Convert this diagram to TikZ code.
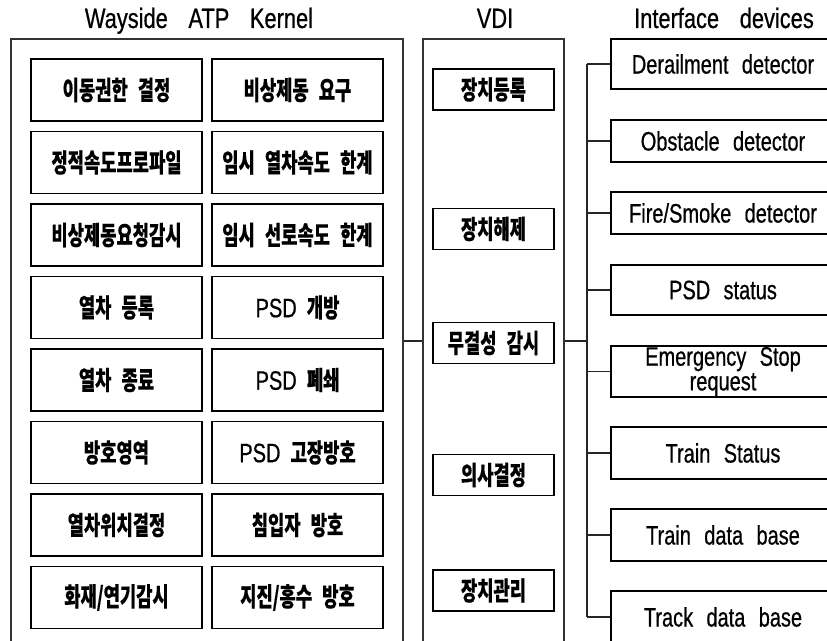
\documentclass[tikz,border=0pt]{standalone}
\usepackage{fontspec}
\setmainfont{Liberation Sans}[FakeStretch=0.75, WordSpace=2.4, FakeBold=0.6]
\newfontfamily\ttl{Liberation Sans}[FakeStretch=0.78, WordSpace=3.4, FakeBold=0.6]
\newfontfamily\kr{Noto Sans CJK KR}[FakeStretch=0.68, WordSpace=2.5, FakeBold=0.3]
\newcommand\lat[1]{{\rmfamily\mdseries\fontsize{20pt}{22pt}\selectfont #1}}
\begin{document}
\begin{tikzpicture}[x=0.75pt,y=-0.75pt,
  outer/.style={draw=black!80, line width=0.8pt, inner sep=0pt, minimum width=#1},
  kbox/.style={draw=black, line width=1pt, inner sep=0pt, minimum width=128.25pt, minimum height=46.5pt, font=\kr\bfseries\fontsize{19.5pt}{21pt}\selectfont},
  vbox/.style={draw=black, line width=1pt, inner sep=0pt, minimum width=90.75pt, minimum height=30.75pt, font=\kr\bfseries\fontsize{19.5pt}{21pt}\selectfont},
  ibox/.style={draw=black, line width=0.8pt, inner sep=0pt, minimum width=168pt, minimum height=#1, align=center, font=\fontsize{20pt}{18.5pt}\selectfont},
  title/.style={anchor=base, inner sep=0pt, font=\ttl\fontsize{21pt}{22pt}\selectfont},
  conn/.style={draw=black!85, line width=0.8pt}]
\useasboundingbox (0,0) rectangle (827,641);
\clip (0,0) rectangle (827,641);
% titles
\node[title] (t1) at (199,28) {Wayside ATP Kernel};
\node[title] (t2) at (495,28) {VDI};
\node[title] (t3) at (724,28) {Interface devices};
% outer containers
\node[outer=294pt, minimum height=465.75pt] (kernel) at (207,349.5) {};
\node[outer=105.75pt, minimum height=465.75pt] (vdi) at (493.5,349.5) {};
% kernel functions
\node[kbox] (k11) at (116.5,90) {이동권한 결정};
\node[kbox] (k12) at (297.5,90) {비상제동 요구};
\node[kbox] (k21) at (116.5,162.5) {정적속도프로파일};
\node[kbox] (k22) at (297.5,162.5) {임시 열차속도 한계};
\node[kbox] (k31) at (116.5,235) {비상제동요청감시};
\node[kbox] (k32) at (297.5,235) {임시 선로속도 한계};
\node[kbox] (k41) at (116.5,307.5) {열차 등록};
\node[kbox] (k42) at (297.5,307.5) {\lat{PSD} 개방};
\node[kbox] (k51) at (116.5,380) {열차 종료};
\node[kbox] (k52) at (297.5,380) {\lat{PSD} 폐쇄};
\node[kbox] (k61) at (116.5,452.5) {방호영역};
\node[kbox] (k62) at (297.5,452.5) {\lat{PSD} 고장방호};
\node[kbox] (k71) at (116.5,525) {열차위치결정};
\node[kbox] (k72) at (297.5,525) {침입자 방호};
\node[kbox] (k81) at (116.5,597.5) {화재/연기감시};
\node[kbox] (k82) at (297.5,597.5) {지진/홍수 방호};
% VDI functions
\node[vbox] (v1) at (493.5,89.5) {장치등록};
\node[vbox] (v2) at (493.5,229) {장치해제};
\node[vbox] (v3) at (493.5,343) {무결성 감시};
\node[vbox] (v4) at (493.5,475) {의사결정};
\node[vbox] (v5) at (493.5,590.5) {장치관리};
% interface devices
\node[ibox=37.5pt] (d1) at (723,64) {Derailment detector};
\node[ibox=31.5pt] (d2) at (723,141) {Obstacle detector};
\node[ibox=31.5pt] (d3) at (723,213) {Fire/Smoke detector};
\node[ibox=37.5pt] (d4) at (723,290) {PSD status};
\node[ibox=38.25pt] (d5) at (723,371.5) {Emergency Stop\\request};
\node[ibox=39pt] (d6) at (723,453) {Train Status};
\node[ibox=39pt] (d7) at (723,535) {Train data base};
\node[ibox=39pt] (d8) at (723,617) {Track data base};
% connectors
\coordinate (bustop) at (587,64);
\coordinate (busbot) at (587,617);
\coordinate (busmid) at (587,341);
\coordinate (km) at (403,341);
\draw[conn] (kernel.east |- km) -- (vdi.west |- km);
\draw[conn, line width=1.5pt] (vdi.east |- km) -- (busmid);
\draw[conn] (bustop) -- (busbot);
\foreach \d in {d1,d2,d3,d4,d5,d6,d7,d8}
  \draw[conn] (bustop |- \d.west) -- (\d.west);
\end{tikzpicture}
\end{document}
